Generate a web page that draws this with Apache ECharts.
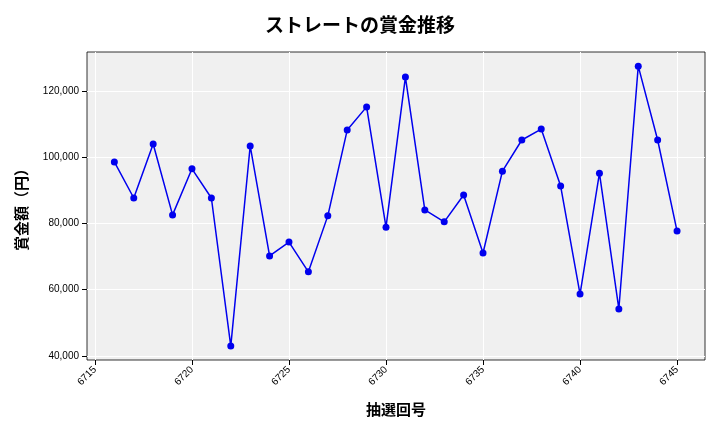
<!DOCTYPE html><html><head><meta charset="utf-8"><script src="https://cdn.jsdelivr.net/npm/echarts@6/dist/echarts.min.js"></script></head><body style="margin:0"><div id="c" style="width:720px;height:432px"></div><script>
const draws=[6716,6717,6718,6719,6720,6721,6722,6723,6724,6725,6726,6727,6728,6729,6730,6731,6732,6733,6734,6735,6736,6737,6738,6739,6740,6741,6742,6743,6744,6745];
const prizes=[98600,87700,104000,82600,96500,87700,43000,103400,70200,74400,65400,82300,108200,115200,78900,124200,84100,80500,88600,71100,95800,105200,108500,91300,58700,95200,54200,127500,105200,77700];
const xTicks=[6715,6720,6725,6730,6735,6740,6745];
const yTicks=[40000,60000,80000,100000,120000];
const f='"Noto Sans CJK JP"';
const ch=echarts.init(document.getElementById('c'));
ch.setOption({
title:{text:'ストレートの賞金推移',left:'center',top:10,textStyle:{fontFamily:f,fontSize:19,fontWeight:'bold',color:'#000'}},
grid:{left:87,right:15,top:52,bottom:72,show:true,backgroundColor:'#f0f0f0',borderColor:'#000',borderWidth:0.8},
xAxis:{type:'value',min:6714.59,max:6746.44,name:'抽選回号',nameLocation:'middle',nameGap:42,nameTextStyle:{fontFamily:f,fontSize:15,fontWeight:'bold',color:'#000'},
axisLine:{show:false},axisTick:{show:true,customValues:xTicks,lineStyle:{color:'#000'}},axisLabel:{customValues:xTicks,rotate:45,fontSize:10,color:'#000',formatter:v=>String(v)},splitLine:{show:true,lineStyle:{color:'#fff',width:1}}},
yAxis:{type:'value',min:38790,max:131770,name:'賞金額（円）',nameLocation:'middle',nameGap:58,nameTextStyle:{fontFamily:f,fontSize:15,fontWeight:'bold',color:'#000'},
axisLine:{show:false},axisTick:{show:true,customValues:yTicks,lineStyle:{color:'#000'}},axisLabel:{customValues:yTicks,fontSize:10,color:'#000',formatter:v=>v.toLocaleString('en-US')},splitLine:{show:true,lineStyle:{color:'#fff',width:1}}},
series:[{type:'line',data:draws.map((d,i)=>[d,prizes[i]]),color:'#0000ee',lineStyle:{width:1.5},symbol:'circle',symbolSize:7,itemStyle:{color:'#0000ee'}}]
});
</script></body></html>
